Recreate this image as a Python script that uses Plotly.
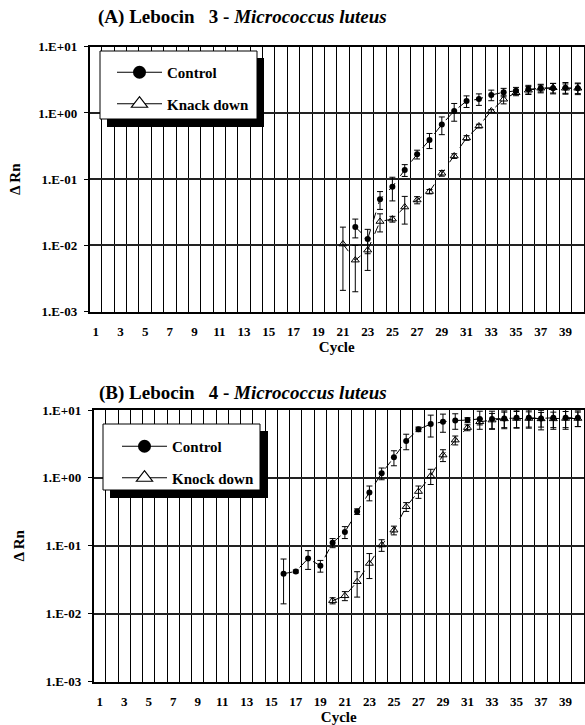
import plotly.graph_objects as go

W, H = 585, 725

# ---------------- data ----------------
cycles_ctrl_A = list(range(22, 41))
ctrl_A = [0.019, 0.0125, 0.050, 0.077, 0.138, 0.238, 0.39, 0.67, 1.07, 1.51, 1.62, 1.87,
          2.05, 2.17, 2.27, 2.36, 2.36, 2.40, 2.36]
ctrl_A_err = [0.006, 0.005, 0.015, 0.03, 0.028, 0.036, 0.1, 0.2, 0.32, 0.3, 0.32, 0.34,
              0.3, 0.26, 0.34, 0.28, 0.42, 0.48, 0.47]

cycles_kd_A = list(range(21, 41))
kd_A = [0.0105, 0.006, 0.0085, 0.023, 0.025, 0.038, 0.0485, 0.065, 0.123, 0.224, 0.42,
        0.635, 1.07, 1.61, 2.02, 2.2, 2.36, 2.4, 2.36, 2.36]
kd_A_err = [0.0084, 0.004, 0.0043, 0.007, 0.0025, 0.017, 0.006, 0.005, 0.012, 0.018, 0.034,
            0.04, 0.05, 0.24, 0.2, 0.3, 0.35, 0.4, 0.38, 0.4]

cycles_ctrl_B = list(range(16, 41))
ctrl_B = [0.039, 0.042, 0.065, 0.051, 0.111, 0.16, 0.32, 0.61, 1.17, 2.01, 3.5, 5.2, 6.2,
          6.7, 7.0, 7.1, 7.4, 7.4, 7.5, 7.7, 7.7, 7.5, 7.7, 7.7, 7.7]
ctrl_B_err = [0.025, 0.002, 0.02, 0.01, 0.017, 0.032, 0.03, 0.15, 0.23, 0.5, 0.9, 0.4, 2.2,
              2.0, 1.8, 0.6, 2.2, 2.2, 2.2, 2.3, 2.3, 2.4, 2.5, 2.5, 2.0]

cycles_kd_B = list(range(20, 41))
kd_B = [0.0156, 0.0184, 0.0296, 0.055, 0.103, 0.17, 0.377, 0.63, 1.07, 2.17, 3.6, 5.5, 6.7,
        7.1, 7.4, 7.5, 7.5, 7.4, 7.4, 7.5, 7.5]
kd_B_err = [0.0016, 0.0028, 0.012, 0.022, 0.02, 0.025, 0.056, 0.13, 0.27, 0.43, 0.54, 0.55,
            0.67, 1.8, 1.9, 2.0, 1.9, 1.8, 1.9, 2.0, 1.8]

x_tickvals = list(range(1, 40, 2))
x_ticktext = ["<b>%d</b>" % v for v in x_tickvals]
cycle_bounds = [c + 0.5 for c in range(0, 41)]
y_tickvals = [0.001, 0.01, 0.1, 1, 10]
y_ticktext = ["<b>1.E-03</b>", "<b>1.E-02</b>", "<b>1.E-01</b>", "<b>1.E+00</b>", "<b>1.E+01</b>"]

title_A = "<b>(A) Lebocin\u00a0\u00a0 3 - <i>Micrococcus luteus</i></b>"
title_B = "<b>(B) Lebocin\u00a0\u00a0 4 - <i>Micrococcus luteus</i></b>"
legend_A = ["<b>Control</b>", "<b>Knack down</b>"]
legend_B = ["<b>Control</b>", "<b>Knock down</b>"]

FONT = "Liberation Serif"

# ---------------- geometry helpers ----------------
def px_x(p):
    return p / W

def px_y(p):
    return 1 - p / H

fig = go.Figure()

def add_panel(xa, ya, legend, cx, cv, ce, kx, kv, ke, names):
    fig.add_trace(go.Scatter(
        x=cx, y=cv, mode="lines+markers", xaxis=xa, yaxis=ya, showlegend=False,
        line=dict(color="black", width=1, dash="dash"),
        marker=dict(symbol="circle", size=6, color="black"),
        error_y=dict(type="data", array=ce, color="black", thickness=1, width=3)))
    fig.add_trace(go.Scatter(
        x=kx, y=kv, mode="lines+markers", xaxis=xa, yaxis=ya, showlegend=False,
        line=dict(color="black", width=1, dash="dash"),
        marker=dict(symbol="triangle-up-open", size=7, color="black", line=dict(width=1)),
        error_y=dict(type="data", array=ke, color="black", thickness=1, width=3)))
    # legend entries
    fig.add_trace(go.Scatter(
        x=[None], y=[None], mode="lines+markers", xaxis=xa, yaxis=ya, name=names[0],
        legend=legend, legendgroup=legend + "c",
        line=dict(color="black", width=1.2),
        marker=dict(symbol="circle", size=13, color="black")))
    fig.add_trace(go.Scatter(
        x=[None], y=[None], mode="lines+markers", xaxis=xa, yaxis=ya, name=names[1],
        legend=legend, legendgroup=legend + "k",
        line=dict(color="black", width=1.2),
        marker=dict(symbol="triangle-up", size=14, color="white",
                    line=dict(color="black", width=1.2))))

add_panel("x", "y", "legend", cycles_ctrl_A, ctrl_A, ctrl_A_err,
          cycles_kd_A, kd_A, kd_A_err, legend_A)
add_panel("x2", "y2", "legend2", cycles_ctrl_B, ctrl_B, ctrl_B_err,
          cycles_kd_B, kd_B, kd_B_err, legend_B)

def xaxis_cfg(left, right):
    return dict(
        domain=[px_x(left), px_x(right)], range=[0.5, 40.5], type="linear",
        tickmode="array", tickvals=x_tickvals, ticktext=x_ticktext,
        showgrid=False, zeroline=False, ticks="", ticklabelstandoff=7,
        tickfont=dict(family=FONT, size=13, color="black"),
        showline=True, linecolor="black", linewidth=1.5, mirror=True,
        minor=dict(tickmode="array", tickvals=cycle_bounds, showgrid=True,
                   gridcolor="black", gridwidth=1, ticks=""),
        title=dict(text="<b>Cycle</b>", standoff=1,
                   font=dict(family=FONT, size=15, color="black")),
        automargin=False)

def yaxis_cfg(top, bottom):
    return dict(
        domain=[px_y(bottom), px_y(top)], type="log", range=[-3, 1],
        tickmode="array", tickvals=y_tickvals, ticktext=y_ticktext,
        showgrid=True, gridcolor="#222222", gridwidth=1.5, zeroline=False,
        ticks="outside", ticklen=4, tickcolor="black",
        tickfont=dict(family=FONT, size=13, color="black"), ticklabelstandoff=4,
        showline=True, linecolor="black", linewidth=1.5, mirror=True,
        title=dict(text="<b>\u0394 Rn</b>", standoff=14,
                   font=dict(family=FONT, size=15, color="black")),
        automargin=False)

ax_x = xaxis_cfg(89.5, 584)
ax_x2 = xaxis_cfg(93.5, 584)
ax_x2["anchor"] = "y2"
ax_y = yaxis_cfg(46.7, 311.7)
ax_y2 = yaxis_cfg(410, 681.7)
ax_y2["anchor"] = "x2"

legend_common = dict(bgcolor="rgba(0,0,0,0)", borderwidth=0, xanchor="left", yanchor="top",
                     font=dict(family=FONT, size=15, color="black"),
                     traceorder="grouped", tracegroupgap=9, itemwidth=45)

fig.update_layout(
    width=W, height=H, margin=dict(l=0, r=0, t=0, b=0),
    paper_bgcolor="white", plot_bgcolor="white",
    xaxis=ax_x, yaxis=ax_y, xaxis2=ax_x2, yaxis2=ax_y2,
    legend=dict(x=px_x(112), y=px_y(56), **legend_common),
    legend2=dict(x=px_x(117), y=px_y(430), **legend_common),
    annotations=[
        dict(text=title_A, x=px_x(96), y=px_y(17), xref="paper", yref="paper",
             xanchor="left", yanchor="middle", showarrow=False,
             font=dict(family=FONT, size=19, color="black")),
        dict(text=title_B, x=px_x(97), y=px_y(393), xref="paper", yref="paper",
             xanchor="left", yanchor="middle", showarrow=False,
             font=dict(family=FONT, size=19, color="black")),
    ],
    shapes=[
        # legend A shadow + box
        dict(type="rect", xref="paper", yref="paper", layer="above",
             x0=px_x(107), x1=px_x(264), y0=px_y(127), y1=px_y(58),
             fillcolor="black", line=dict(width=0)),
        dict(type="rect", xref="paper", yref="paper", layer="above",
             x0=px_x(100), x1=px_x(257), y0=px_y(119), y1=px_y(51),
             fillcolor="white", line=dict(color="black", width=1)),
        # legend B shadow + box
        dict(type="rect", xref="paper", yref="paper", layer="above",
             x0=px_x(110), x1=px_x(268), y0=px_y(498), y1=px_y(431),
             fillcolor="black", line=dict(width=0)),
        dict(type="rect", xref="paper", yref="paper", layer="above",
             x0=px_x(103), x1=px_x(260), y0=px_y(490), y1=px_y(424),
             fillcolor="white", line=dict(color="black", width=1)),
    ],
)

fig.write_html("out.html")
